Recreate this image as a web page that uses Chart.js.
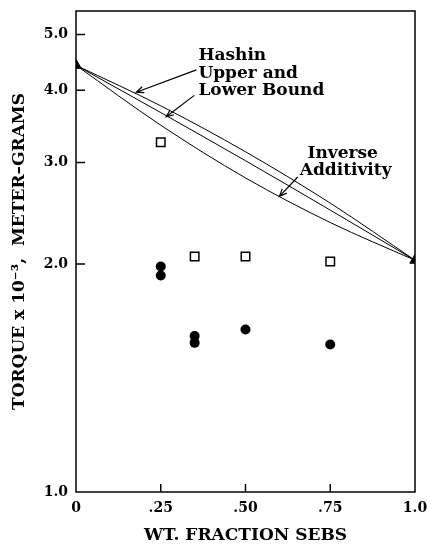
<!DOCTYPE html>
<html>
<head>
<meta charset="utf-8">
<script src="https://cdn.jsdelivr.net/npm/chart.js@4"></script>
<style>
body { margin: 0; background: #fff; }
</style>
</head>
<body>
<canvas id="myChart" width="427" height="544"></canvas>
<script>
// model curves, read at wt. fraction 0, .25, .50, .75, 1.0
var fractions = [0, 0.25, 0.5, 0.75, 1];
var hashinUpper = [4.42, 3.76, 3.13, 2.55, 2.03];
var hashinLower = [4.42, 3.66, 3.02, 2.48, 2.03];
var inverseAdd = [4.42, 3.48, 2.82, 2.36, 2.03];

// pure components (triangles)
var pureX = [0, 1];
var pureY = [4.42, 2.03];

// measured blends
var openX = [0.25, 0.35, 0.5, 0.75];
var openY = [3.25, 2.06, 2.06, 2.02];
var filledX = [0.25, 0.25, 0.35, 0.35, 0.5, 0.75];
var filledY = [1.98, 1.91, 1.50, 1.46, 1.54, 1.45];

// axes
var xTicks = [0, 0.25, 0.5, 0.75, 1];
var xTickLabels = ['0', '.25', '.50', '.75', '1.0'];
var yMin = 0.805, yMax = 5.49;          // bottom of the (broken) log axis is labelled 1.0
var yTicks = [yMin, 2, 3, 4, 5];
var yTickLabels = ['1.0', '2.0', '3.0', '4.0', '5.0'];

// callouts, in data units
var notes = [
    { text: 'Hashin', x: 0.361, y: 4.51 },
    { text: 'Upper and', x: 0.361, y: 4.20 },
    { text: 'Lower Bound', x: 0.361, y: 3.92 },
    { text: 'Inverse', x: 0.683, y: 3.05 },
    { text: 'Additivity', x: 0.660, y: 2.85 }
];
var arrows = [
    { x0: 0.355, y0: 4.34, x1: 0.178, y1: 3.97 },
    { x0: 0.349, y0: 3.92, x1: 0.266, y1: 3.60 },
    { x0: 0.654, y0: 2.83, x1: 0.600, y1: 2.62 }
];

var serif = 'DejaVu Serif';

function pts(xs, ys) {
    return xs.map(function (x, i) { return { x: x, y: ys[i] }; });
}

function curve(ys) {
    return {
        data: pts(fractions, ys),
        showLine: true,
        borderColor: '#000',
        borderWidth: 1,
        pointRadius: 0,
        cubicInterpolationMode: 'monotone',
        fill: false
    };
}

var framePlugin = {
    id: 'frame',
    afterDatasetsDraw: function (chart) {
        var ctx = chart.ctx;
        var a = chart.chartArea;
        var xs = chart.scales.x, ys = chart.scales.y;
        ctx.save();
        ctx.strokeStyle = '#000';
        ctx.lineWidth = 1.5;
        ctx.strokeRect(a.left, a.top, a.right - a.left, a.bottom - a.top);

        // inward tick marks
        ctx.beginPath();
        xTicks.forEach(function (v) {
            if (v === 0 || v === 1) return;
            var px = xs.getPixelForValue(v);
            ctx.moveTo(px, a.bottom);
            ctx.lineTo(px, a.bottom - 8);
        });
        yTicks.forEach(function (v, i) {
            if (i === 0) return;
            var py = ys.getPixelForValue(v);
            ctx.moveTo(a.left, py);
            ctx.lineTo(a.left + 9, py);
        });
        ctx.stroke();

        // callout text
        ctx.fillStyle = '#000';
        ctx.font = 'bold 17px "' + serif + '"';
        ctx.textAlign = 'left';
        ctx.textBaseline = 'alphabetic';
        notes.forEach(function (n) {
            ctx.fillText(n.text, xs.getPixelForValue(n.x), ys.getPixelForValue(n.y));
        });

        // arrows
        ctx.lineWidth = 1.2;
        arrows.forEach(function (ar) {
            var x0 = xs.getPixelForValue(ar.x0), y0 = ys.getPixelForValue(ar.y0);
            var x1 = xs.getPixelForValue(ar.x1), y1 = ys.getPixelForValue(ar.y1);
            var ang = Math.atan2(y1 - y0, x1 - x0);
            ctx.beginPath();
            ctx.moveTo(x0, y0);
            ctx.lineTo(x1, y1);
            ctx.moveTo(x1 - 8 * Math.cos(ang - 0.4), y1 - 8 * Math.sin(ang - 0.4));
            ctx.lineTo(x1, y1);
            ctx.lineTo(x1 - 8 * Math.cos(ang + 0.4), y1 - 8 * Math.sin(ang + 0.4));
            ctx.stroke();
        });
        ctx.restore();
    }
};

var ctx = document.getElementById('myChart').getContext('2d');
var myChart = new Chart(ctx, {
    type: 'scatter',
    data: {
        datasets: [
            curve(hashinUpper),
            curve(hashinLower),
            curve(inverseAdd),
            {
                data: pts(pureX, pureY),
                pointStyle: 'triangle',
                pointRadius: 6,
                backgroundColor: '#000',
                borderColor: '#000',
                borderWidth: 1
            }, {
                data: pts(openX, openY),
                pointStyle: 'rect',
                pointRadius: 6,
                backgroundColor: '#fff',
                borderColor: '#000',
                borderWidth: 1.5
            }, {
                data: pts(filledX, filledY),
                pointStyle: 'circle',
                pointRadius: 5,
                backgroundColor: '#000',
                borderColor: '#000',
                borderWidth: 0
            }
        ]
    },
    options: {
        responsive: false,
        animation: false,
        layout: {
            padding: { left: 8, right: 12, top: 11, bottom: 0 }
        },
        plugins: {
            legend: { display: false },
            tooltip: { enabled: false }
        },
        scales: {
            x: {
                type: 'linear',
                min: 0,
                max: 1,
                grid: { display: false, drawTicks: false },
                border: { display: false },
                afterBuildTicks: function (scale) {
                    scale.ticks = xTicks.map(function (v) { return { value: v }; });
                },
                afterFit: function (scale) {
                    scale.height = 52;
                    scale.paddingLeft = 0;
                    scale.paddingRight = 0;
                },
                ticks: {
                    padding: 8,
                    color: '#000',
                    maxRotation: 0,
                    font: { family: serif, size: 14, weight: 'bold' },
                    callback: function (v, i) { return xTickLabels[i]; }
                },
                title: {
                    display: true,
                    text: 'WT. FRACTION SEBS',
                    color: '#000',
                    padding: { top: 0, bottom: 0 },
                    font: { family: serif, size: 17, weight: 'bold', lineHeight: 1 }
                }
            },
            y: {
                type: 'logarithmic',
                min: yMin,
                max: yMax,
                grid: { display: false, drawTicks: false },
                border: { display: false },
                afterBuildTicks: function (scale) {
                    scale.ticks = yTicks.map(function (v) { return { value: v }; });
                },
                afterFit: function (scale) {
                    scale.width = 68;
                    scale.paddingTop = 0;
                    scale.paddingBottom = 0;
                },
                ticks: {
                    padding: 8,
                    color: '#000',
                    font: { family: serif, size: 14, weight: 'bold' },
                    callback: function (v, i) { return yTickLabels[i]; }
                },
                title: {
                    display: true,
                    text: 'TORQUE x 10\u207B\u00B3,  METER\u2013GRAMS',
                    color: '#000',
                    padding: { top: 3, bottom: 0 },
                    font: { family: serif, size: 17, weight: 'bold', lineHeight: 1 }
                }
            }
        }
    },
    plugins: [framePlugin]
});
</script>
</body>
</html>
